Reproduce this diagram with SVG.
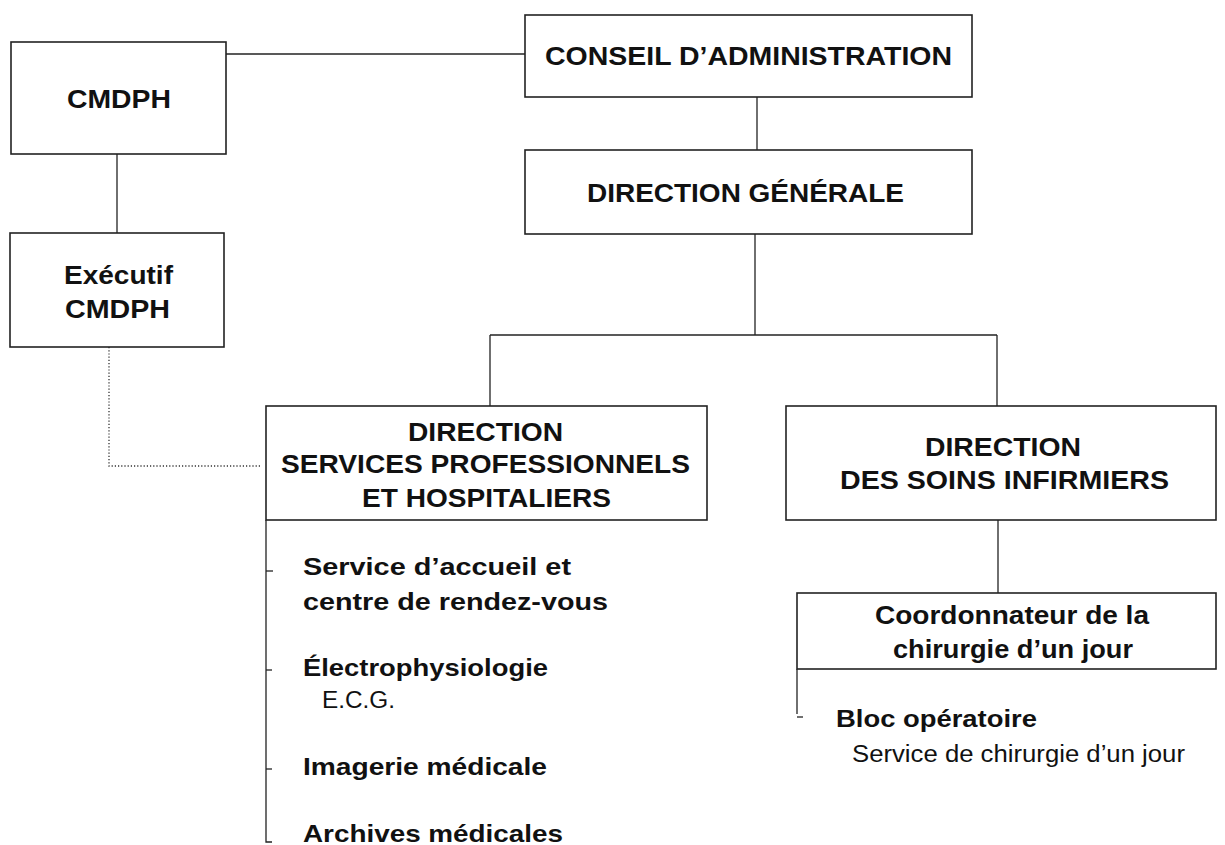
<svg xmlns="http://www.w3.org/2000/svg" width="1225" height="845" viewBox="0 0 1225 845">
  <style>
    .box { fill: #ffffff; stroke: #222222; stroke-width: 1.6; }
    .link { fill: none; stroke: #222222; stroke-width: 1.3; }
    .dotted { fill: none; stroke: #333333; stroke-width: 1.3; stroke-dasharray: 1.2 2; }
    .head { font-family: "Liberation Sans", Arial, sans-serif; font-weight: bold; font-size: 26px; fill: #111111; }
    .item { font-family: "Liberation Sans", Arial, sans-serif; font-weight: bold; font-size: 24px; fill: #111111; }
    .sub { font-family: "Liberation Sans", Arial, sans-serif; font-size: 23px; fill: #111111; }
  </style>
  <rect width="1225" height="845" fill="#ffffff"/>

  <!-- connectors -->
  <g id="connectors">
    <path class="link" d="M226 54 H525"/>
    <path class="link" d="M757 97 V150"/>
    <path class="link" d="M755 234 V335"/>
    <path class="link" d="M490 335 H997"/>
    <path class="link" d="M490 335 V406"/>
    <path class="link" d="M997 335 V406"/>
    <path class="link" d="M117 154 V233"/>
    <path class="dotted" d="M109 347 V466 H262"/>
    <path class="link" d="M998 520 V593"/>
    <!-- department list rails -->
    <path class="link" d="M266 520 V842 H272"/>
    <path class="link" d="M266 571 H273"/>
    <path class="link" d="M266 670 H272"/>
    <path class="link" d="M266 769 H272"/>
    <path class="link" d="M797 669 V714"/>
    <path class="link" d="M797 717 H803"/>
  </g>

  <g id="cmdph">
    <rect class="box" x="11" y="42" width="215" height="112"/>
    <text class="head" x="67" y="108" textLength="104" lengthAdjust="spacingAndGlyphs">CMDPH</text>
  </g>

  <g id="conseil">
    <rect class="box" x="525" y="15" width="447" height="82"/>
    <text class="head" x="545" y="65" textLength="407" lengthAdjust="spacingAndGlyphs">CONSEIL D’ADMINISTRATION</text>
  </g>

  <g id="direction-generale">
    <rect class="box" x="525" y="150" width="447" height="84"/>
    <text class="head" x="587" y="202" textLength="317" lengthAdjust="spacingAndGlyphs">DIRECTION GÉNÉRALE</text>
  </g>

  <g id="executif-cmdph">
    <rect class="box" x="10" y="233" width="214" height="114"/>
    <text class="head" x="64" y="284" textLength="109" lengthAdjust="spacingAndGlyphs">Exécutif</text>
    <text class="head" x="65" y="318" textLength="105" lengthAdjust="spacingAndGlyphs">CMDPH</text>
  </g>

  <g id="direction-sph">
    <rect class="box" x="266" y="406" width="441" height="114"/>
    <text class="head" x="408" y="441" textLength="155" lengthAdjust="spacingAndGlyphs">DIRECTION</text>
    <text class="head" x="281" y="473" textLength="409" lengthAdjust="spacingAndGlyphs">SERVICES PROFESSIONNELS</text>
    <text class="head" x="362" y="507" textLength="249" lengthAdjust="spacingAndGlyphs">ET HOSPITALIERS</text>
  </g>

  <g id="services-sph">
    <text class="item" x="303" y="575" textLength="268" lengthAdjust="spacingAndGlyphs">Service d’accueil et</text>
    <text class="item" x="303" y="610" textLength="305" lengthAdjust="spacingAndGlyphs">centre de rendez-vous</text>
    <text class="item" x="303" y="676" textLength="245" lengthAdjust="spacingAndGlyphs">Électrophysiologie</text>
    <text class="sub" x="322" y="708" textLength="73" lengthAdjust="spacingAndGlyphs">E.C.G.</text>
    <text class="item" x="303" y="775" textLength="244" lengthAdjust="spacingAndGlyphs">Imagerie médicale</text>
    <text class="item" x="303" y="842" textLength="260" lengthAdjust="spacingAndGlyphs">Archives médicales</text>
  </g>

  <g id="direction-soins">
    <rect class="box" x="786" y="406" width="430" height="114"/>
    <text class="head" x="925" y="456" textLength="156" lengthAdjust="spacingAndGlyphs">DIRECTION</text>
    <text class="head" x="840" y="489" textLength="329" lengthAdjust="spacingAndGlyphs">DES SOINS INFIRMIERS</text>
  </g>

  <g id="coordonnateur">
    <rect class="box" x="797" y="593" width="419" height="76"/>
    <text class="head" x="875" y="624" textLength="274" lengthAdjust="spacingAndGlyphs">Coordonnateur de la</text>
    <text class="head" x="893" y="658" textLength="240" lengthAdjust="spacingAndGlyphs">chirurgie d’un jour</text>
  </g>

  <g id="services-soins">
    <text class="item" x="836" y="727" textLength="201" lengthAdjust="spacingAndGlyphs">Bloc opératoire</text>
    <text class="sub" x="852" y="762" textLength="333" lengthAdjust="spacingAndGlyphs">Service de chirurgie d’un jour</text>
  </g>
</svg>
